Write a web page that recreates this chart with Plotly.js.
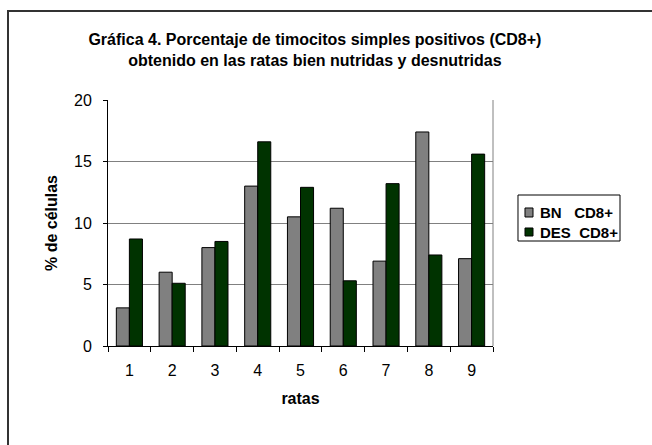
<!DOCTYPE html>
<html>
<head>
<meta charset="utf-8">
<script src="https://cdn.plot.ly/plotly-3.0.1.min.js"></script>
<style>
html,body{margin:0;padding:0;background:#fff;}
#frame{position:absolute;left:7px;top:10px;width:700px;height:500px;border-left:2px solid #333;border-top:2px solid #333;pointer-events:none;z-index:5;}
#chart{position:absolute;left:0;top:0;width:652px;height:445px;}
</style>
</head>
<body>
<div id="chart"></div>
<div id="frame"></div>
<script>
const categories = ['1','2','3','4','5','6','7','8','9'];
const bnValues  = [3.1, 6.0, 8.0, 13.0, 10.5, 11.2, 6.9, 17.4, 7.1];
const desValues = [8.7, 5.1, 8.5, 16.6, 12.9, 5.3, 13.2, 7.4, 15.6];
const seriesNames = ['BN\u00a0\u00a0\u00a0CD8+', 'DES\u00a0\u00a0CD8+'];
const seriesColors = ['#808080', '#003300'];
const yTicks = [0, 5, 10, 15, 20];

const font = 'Arial, "Liberation Sans", sans-serif';

const traces = [
  {type:'bar', name:seriesNames[0], x:categories, y:bnValues,
   marker:{color:seriesColors[0], line:{color:'#000', width:1}}},
  {type:'bar', name:seriesNames[1], x:categories, y:desValues,
   marker:{color:seriesColors[1], line:{color:'#000', width:1}}}
];

// custom legend (box, swatches, labels) in paper coordinates
const legBox = {x0:1.0649, x1:1.3299, y0:0.4268, y1:0.6138};
const swatchY = [[0.5244, 0.5610], [0.4472, 0.4797]];
const labelY = [0.5427, 0.4634];
const shapes = [
  {type:'line', xref:'paper', yref:'paper', x0:1, x1:1, y0:0, y1:1, line:{color:'#808080', width:1}},
  {type:'rect', xref:'paper', yref:'paper', x0:legBox.x0, x1:legBox.x1, y0:legBox.y0, y1:legBox.y1,
   line:{color:'#000', width:1}, fillcolor:'rgba(0,0,0,0)'}
];
const annotations = [];
for (let i = 0; i < seriesNames.length; i++) {
  shapes.push({type:'rect', xref:'paper', yref:'paper', x0:1.0831, x1:1.1039,
               y0:swatchY[i][0], y1:swatchY[i][1], fillcolor:seriesColors[i], line:{color:'#000', width:1}});
  annotations.push({xref:'paper', yref:'paper', x:1.1169, y:labelY[i], xanchor:'left', yanchor:'middle',
                    showarrow:false, text:'<b>'+seriesNames[i]+'</b>', font:{size:15, family:font, color:'#000'}});
}

const layout = {
  width:652, height:445,
  margin:{l:108, r:159, t:100, b:99},
  paper_bgcolor:'#fff', plot_bgcolor:'#fff',
  font:{family:font, color:'#000', size:16},
  title:{text:'<b>Gráfica 4. Porcentaje de timocitos simples positivos (CD8+)<br>obtenido en las ratas bien nutridas y desnutridas</b>',
         font:{size:16, family:font, color:'#000'}, x:0.483, xanchor:'center', y:0.899, yanchor:'top'},
  barmode:'group', bargap:0.39, bargroupgap:0,
  showlegend:false,
  xaxis:{type:'category', tickson:'boundaries', ticks:'outside', ticklen:5, tickcolor:'#000',
         showline:true, linecolor:'#000', linewidth:1, showgrid:false,
         tickfont:{size:16, family:font, color:'#000'}, ticklabelstandoff:10,
         title:{text:'<b>ratas</b>', font:{size:16, family:font, color:'#000'}, standoff:14}},
  yaxis:{range:[0,20], tickvals:yTicks, ticks:'outside', ticklen:4, tickcolor:'#000',
         showline:true, linecolor:'#000', linewidth:1, mirror:false,
         showgrid:true, gridcolor:'#808080', gridwidth:1, zeroline:false,
         tickfont:{size:16, family:font, color:'#000'}, ticklabelstandoff:8,
         title:{text:'<b>% de células</b>', font:{size:16, family:font, color:'#000'}, standoff:12}},
  shapes:shapes,
  annotations:annotations
};

Plotly.newPlot('chart', traces, layout, {displayModeBar:false, staticPlot:true});
</script>
</body>
</html>
